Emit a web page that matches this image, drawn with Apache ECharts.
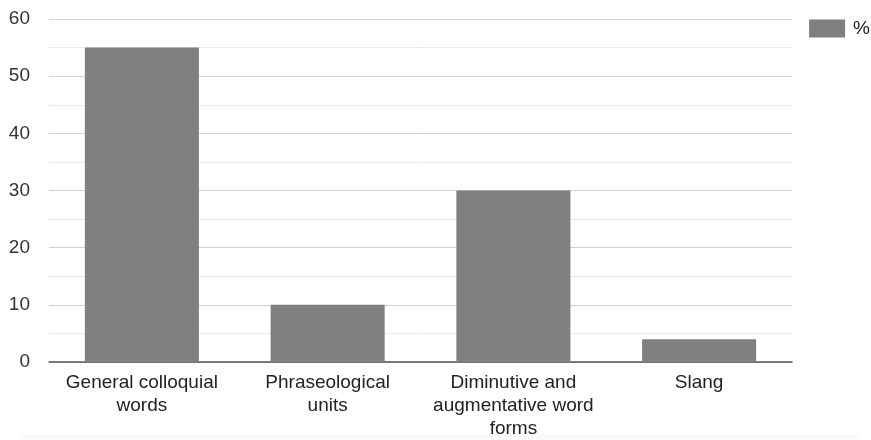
<!DOCTYPE html>
<html>
<head>
<meta charset="utf-8">
<script src="https://cdn.jsdelivr.net/npm/echarts@6/dist/echarts.min.js"></script>
<style>
  html, body { margin: 0; padding: 0; background: #fff; }
  #chart { width: 871px; height: 440px; }
</style>
</head>
<body>
<div id="chart"></div>
<script>
// Share of lexical groups, in percent
const categories = [
  'General colloquial\nwords',
  'Phraseological\nunits',
  'Diminutive and\naugmentative word\nforms',
  'Slang'
];
const percentValues = [55, 10, 30, 4];
const yTicks = { min: 0, max: 60, interval: 10 };

const chart = echarts.init(document.getElementById('chart'), null, { renderer: 'canvas' });

chart.setOption({
  animation: false,
  textStyle: { fontFamily: 'Liberation Sans, Arial, sans-serif' },
  graphic: [{
    // faint footer band under the chart
    type: 'rect',
    left: 20,
    bottom: 0,
    shape: { width: 840, height: 6 },
    style: { fill: '#fafafa' },
    silent: true,
    z: -1
  }],
  legend: {
    right: 1,
    top: 19,
    padding: 0,
    itemWidth: 36,
    itemHeight: 18,
    icon: 'rect',
    textStyle: { fontSize: 19, color: '#222', padding: [0, 0, 0, 3] },
    data: ['%']
  },
  grid: { left: 49, right: 79, top: 19, bottom: 71, containLabel: false },
  xAxis: {
    type: 'category',
    data: categories,
    axisLine: { show: true, lineStyle: { color: '#555', width: 1.5 } },
    axisTick: { show: false },
    axisLabel: {
      color: '#222',
      fontSize: 19,
      lineHeight: 23,
      margin: 9,
      interval: 0
    }
  },
  yAxis: {
    type: 'value',
    min: yTicks.min,
    max: yTicks.max,
    interval: yTicks.interval,
    axisLine: { show: false },
    axisTick: { show: false },
    axisLabel: { color: '#333', fontSize: 19, margin: 19 },
    splitLine: { show: true, lineStyle: { color: '#d0d0d0', width: 1 } },
    minorTick: { show: false, splitNumber: 2 },
    minorSplitLine: { show: true, lineStyle: { color: '#ebebeb', width: 1 } }
  },
  series: [{
    name: '%',
    type: 'bar',
    data: percentValues,
    barCategoryGap: '38.6%',
    itemStyle: { color: '#808080' }
  }]
});
</script>
</body>
</html>
